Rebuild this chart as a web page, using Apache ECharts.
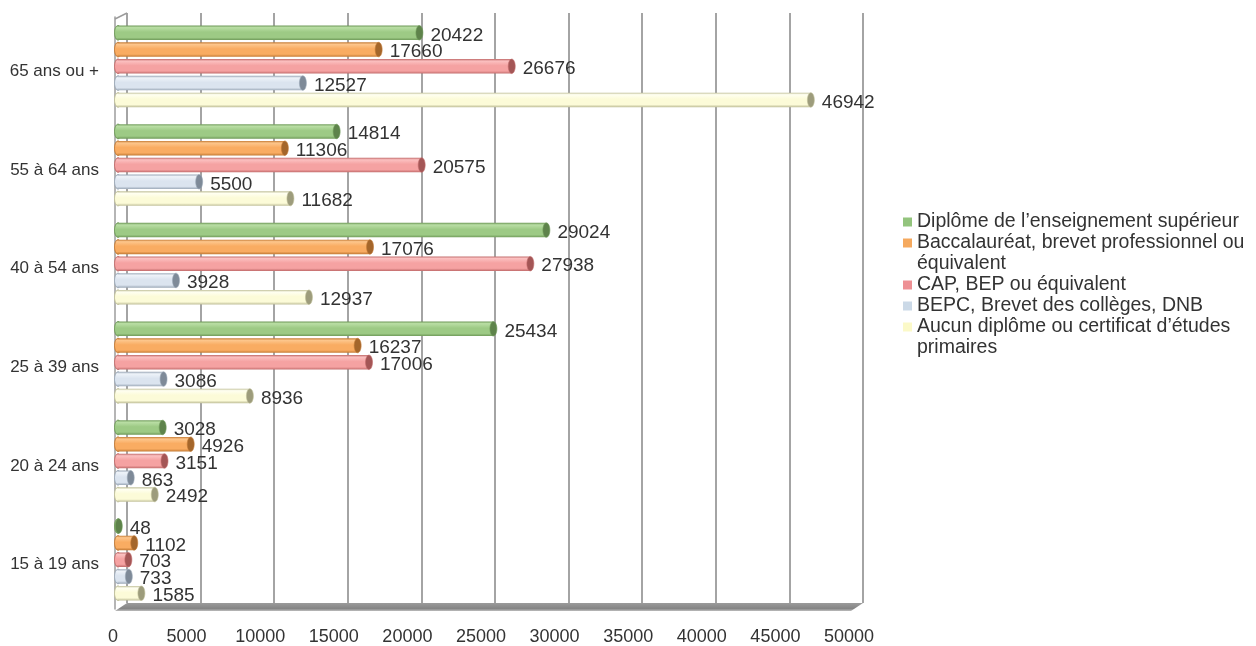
<!DOCTYPE html>
<html lang="fr">
<head>
<meta charset="utf-8">
<title>Population par âge et diplôme le plus élevé</title>
<script src="https://cdn.jsdelivr.net/npm/echarts@6/dist/echarts.min.js"></script>
<style>
  html, body { margin: 0; padding: 0; background: #ffffff; }
  #chart { width: 1256px; height: 646px; }
</style>
</head>
<body>
<div id="chart"></div>
<script>
// Age groups, listed from the top of the chart to the bottom
const ageGroups = ['65 ans ou +', '55 à 64 ans', '40 à 54 ans', '25 à 39 ans', '20 à 24 ans', '15 à 19 ans'];

// Number of people per age group, one array per diploma level
const diplomeSuperieur = [20422, 14814, 29024, 25434, 3028, 48];
const baccalaureat     = [17660, 11306, 17076, 16237, 4926, 1102];
const capBep           = [26676, 20575, 27938, 17006, 3151, 703];
const bepc             = [12527, 5500, 3928, 3086, 863, 733];
const aucunDiplome     = [46942, 11682, 12937, 8936, 2492, 1585];

const seriesNames = [
  'Diplôme de l’enseignement supérieur',
  'Baccalauréat, brevet professionnel ou\néquivalent',
  'CAP, BEP ou équivalent',
  'BEPC, Brevet des collèges, DNB',
  'Aucun diplôme ou certificat d’études\nprimaires'
];
const seriesValues = [diplomeSuperieur, baccalaureat, capBep, bepc, aucunDiplome];

// Value axis ticks
const xTicks = [0, 5000, 10000, 15000, 20000, 25000, 30000, 35000, 40000, 45000, 50000];

// Cylinder shading per series: legend swatch, body, highlight, rim, end cap
const palettes = [
  { swatch: '#93c47d', body: '#9dca85', light: '#b9dea4', rim: '#6f9a59', cap: '#5e834b' },
  { swatch: '#f5a95e', body: '#f9ac62', light: '#fdc68c', rim: '#c47b35', cap: '#a4662b' },
  { swatch: '#ee9094', body: '#f5a2a2', light: '#fbc0c0', rim: '#c26c6c', cap: '#a45656' },
  { swatch: '#cbd9e7', body: '#dbe4ef', light: '#eef3f9', rim: '#9ba8b7', cap: '#7e8a98' },
  { swatch: '#fbf9c8', body: '#fcfbd8', light: '#fffff1', rim: '#c0bf98', cap: '#9d9c7c' }
];

const FONT = '"Liberation Sans", Arial, sans-serif';
const TEXT_COLOR = '#333333';

function cylinderRenderer(pos, pal) {
  return function (params, api) {
    const cat = api.value(1);
    const val = api.value(0);
    const base = api.coord([0, cat]);
    const tip = api.coord([val, cat]);
    const band = api.size([0, 1])[1];
    const step = band * 0.170;
    const h = band * 0.147;
    const cy = base[1] + (pos - 2) * step;
    const x0 = base[0];
    const x1 = Math.max(tip[0], x0 + 0.8);
    const rx = h * 0.24;
    const bodyFill = {
      type: 'linear', x: 0, y: 0, x2: 0, y2: 1,
      colorStops: [
        { offset: 0, color: pal.rim },
        { offset: 0.14, color: pal.light },
        { offset: 0.45, color: pal.body },
        { offset: 0.82, color: pal.body },
        { offset: 1, color: pal.rim }
      ]
    };
    return {
      type: 'group',
      children: [
        {
          type: 'ellipse',
          shape: { cx: x0, cy: cy, rx: rx, ry: h / 2 },
          style: { fill: bodyFill, stroke: pal.rim, lineWidth: 0.6 }
        },
        {
          type: 'rect',
          shape: { x: x0, y: cy - h / 2, width: x1 - x0, height: h },
          style: { fill: bodyFill }
        },
        {
          type: 'ellipse',
          shape: { cx: x1, cy: cy, rx: rx, ry: h / 2 },
          style: { fill: pal.cap, stroke: pal.rim, lineWidth: 0.6 }
        },
        {
          type: 'text',
          z2: 100,
          style: {
            text: String(val),
            x: x1 + rx + 7.5,
            y: cy + 2.5,
            fill: TEXT_COLOR,
            fontSize: 19,
            fontFamily: FONT,
            align: 'left',
            verticalAlign: 'middle'
          }
        }
      ]
    };
  };
}

const series = seriesNames.map(function (name, i) {
  return {
    type: 'custom',
    name: name,
    xAxisIndex: 0,
    yAxisIndex: 0,
    itemStyle: { color: palettes[i].swatch },
    encode: { x: 0, y: 1 },
    renderItem: cylinderRenderer(i, palettes[i]),
    data: seriesValues[i].map(function (v, k) { return [v, k]; })
  };
});

// One legend block per entry; wrapped entries get a blank leading line so
// that the swatch lines up with their first line of text
const LEGEND_LINE = 21;
let legendLine = 0;
const legends = seriesNames.map(function (name) {
  const lines = name.split('\n').length;
  const firstLineY = 222 + legendLine * LEGEND_LINE;
  legendLine += lines;
  return {
    left: 903,
    top: firstLineY - (2 * lines - 1) * LEGEND_LINE / 2,
    orient: 'vertical',
    icon: 'rect',
    itemWidth: 9,
    itemHeight: 9,
    itemGap: 0,
    padding: 0,
    data: [name],
    formatter: function (n) { return lines > 1 ? '\n' + n : n; },
    textStyle: {
      color: TEXT_COLOR,
      fontSize: 19.5,
      fontFamily: FONT,
      lineHeight: LEGEND_LINE
    }
  };
});

const chart = echarts.init(document.getElementById('chart'), null, { renderer: 'canvas' });

chart.setOption({
  animation: false,
  backgroundColor: '#ffffff',
  textStyle: { fontFamily: FONT },
  legend: legends,
  grid: [
    // bars sit on the front plane
    { left: 118, right: 400, top: 17, bottom: 37, outerBoundsMode: 'none', containLabel: false },
    // back wall carrying the grid lines and the value labels
    { left: 127, right: 393, top: 13, bottom: 43, outerBoundsMode: 'none', containLabel: false }
  ],
  xAxis: [
    {
      gridIndex: 0,
      type: 'value',
      min: xTicks[0],
      max: xTicks[xTicks.length - 1],
      interval: xTicks[1] - xTicks[0],
      show: false
    },
    {
      gridIndex: 1,
      type: 'value',
      min: xTicks[0],
      max: xTicks[xTicks.length - 1],
      interval: xTicks[1] - xTicks[0],
      axisLine: { show: false },
      axisTick: { show: false },
      splitLine: {
        show: true,
        showMinLine: true,
        showMaxLine: true,
        lineStyle: { color: '#a4a4a4', width: 2 }
      },
      axisLabel: {
        show: true,
        color: TEXT_COLOR,
        fontSize: 18,
        fontFamily: FONT,
        margin: 25,
        padding: [0, 28, 0, 0],
        hideOverlap: false,
        formatter: function (v) { return String(v); }
      }
    }
  ],
  yAxis: [
    {
      gridIndex: 0,
      type: 'category',
      inverse: true,
      data: ageGroups,
      offset: 3,
      axisLine: { show: true, onZero: false, lineStyle: { color: '#9c9c9c', width: 1.5 } },
      axisTick: { show: false },
      splitLine: { show: false },
      axisLabel: {
        color: TEXT_COLOR,
        fontSize: 17,
        fontFamily: FONT,
        margin: 16,
        verticalAlign: 'top',
        lineHeight: 10
      }
    },
    {
      gridIndex: 1,
      type: 'value',
      min: 0,
      max: 1,
      show: false
    }
  ],
  series: series
});

// Floor slab and the corner joining the side wall to the back wall
const backLeft = chart.convertToPixel({ xAxisIndex: 1 }, xTicks[0]);
const backRight = chart.convertToPixel({ xAxisIndex: 1 }, xTicks[xTicks.length - 1]);
const backBottom = chart.convertToPixel({ yAxisIndex: 1 }, 0);
const backTop = chart.convertToPixel({ yAxisIndex: 1 }, 1);
const frontLeft = chart.convertToPixel({ xAxisIndex: 0 }, xTicks[0]) - 3;
const frontBottom = backBottom + 8;
const depthX = backLeft - frontLeft;

chart.setOption({
  graphic: [
    {
      type: 'polygon',
      silent: true,
      z: 1,
      shape: {
        points: [
          [backLeft, backBottom],
          [backRight, backBottom],
          [backRight - depthX, frontBottom],
          [frontLeft, frontBottom]
        ]
      },
      style: {
        fill: {
          type: 'linear', x: 0, y: 0, x2: 0, y2: 1,
          colorStops: [
            { offset: 0, color: '#9b9b9b' },
            { offset: 0.7, color: '#858585' },
            { offset: 1, color: '#bdbdbd' }
          ]
        }
      }
    },
    {
      type: 'polyline',
      silent: true,
      z: 1,
      shape: { points: [[frontLeft, backTop + 6], [backLeft, backTop]] },
      style: { stroke: '#9c9c9c', lineWidth: 1.5, fill: null }
    }
  ]
});
</script>
</body>
</html>
